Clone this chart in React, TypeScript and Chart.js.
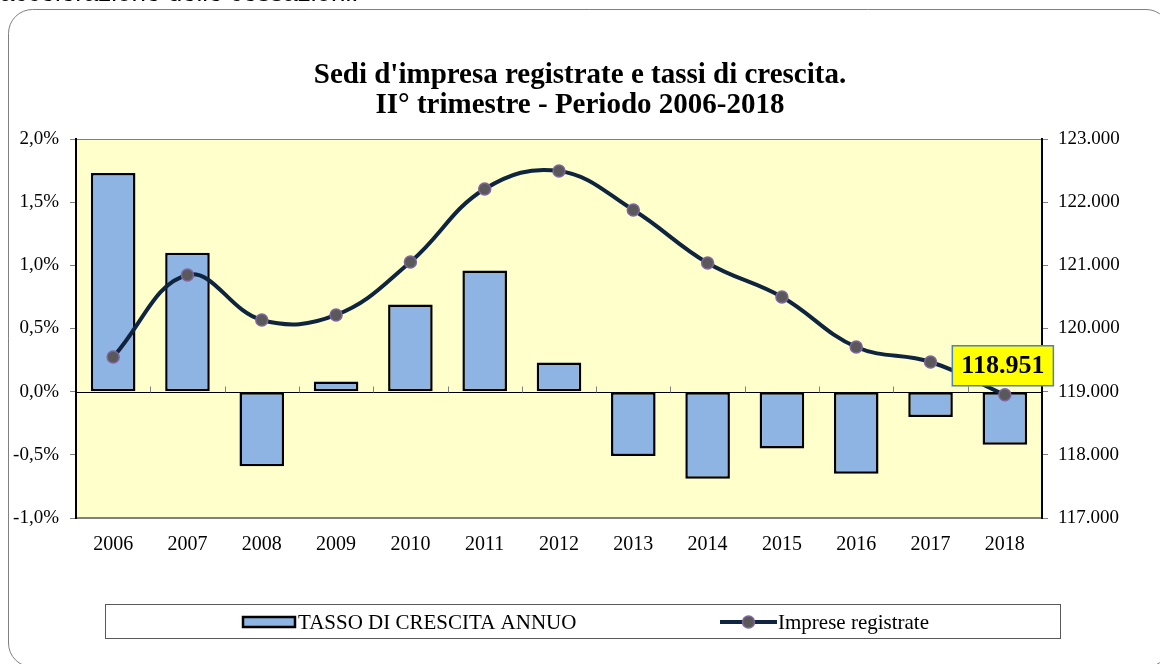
import React, { useEffect, useRef } from "react";
import { Chart, registerables } from "chart.js";

Chart.register(...registerables);

// ---- Data ----
const years = ["2006", "2007", "2008", "2009", "2010", "2011", "2012", "2013", "2014", "2015", "2016", "2017", "2018"];
const growthRate = [1.73, 1.10, -0.59, 0.08, 0.69, 0.96, 0.23, -0.51, -0.69, -0.45, -0.65, -0.20, -0.42];
const registeredFirms = [119549, 120847, 120135, 120214, 121053, 122208, 122493, 121876, 121037, 120499, 119707, 119470, 118951];
const titleLines = ["Sedi d'impresa registrate e tassi di crescita.", "II° trimestre - Periodo 2006-2018"];
const legendLabels = ["TASSO DI CRESCITA ANNUO", "Imprese registrate"];
const introText = "accelerazione delle cessazioni.";
const leftAxisTicks = { min: -1, max: 2, step: 0.5 };
const rightAxisTicks = { min: 117000, max: 123000, step: 1000 };

const SERIF = "'Liberation Serif', 'Times New Roman', serif";
const BAR_FILL = "#8DB4E2";
const LINE_COLOR = "#0F243E";
const POINT_FILL = "#595959";
const POINT_BORDER = "#8064A2";

const fmtThousands = (v: number) => String(Math.round(v)).replace(/\B(?=(\d{3})+(?!\d))/g, ".");
const fmtPct = (v: number) => v.toFixed(1).replace(".", ",") + "%";

const decorPlugin = {
  id: "decor",
  beforeDraw(chart: any) {
    const { ctx, chartArea: a, width, height } = chart;
    ctx.save();
    ctx.fillStyle = "#ffffff";
    ctx.fillRect(0, 0, width, height);
    // outer rounded frame
    ctx.strokeStyle = "#7f7f7f";
    ctx.lineWidth = 1;
    ctx.beginPath();
    const x0 = 8.5, y0 = 9.5, x1 = 1170, y1 = 667, r = 24;
    ctx.moveTo(x0 + r, y0);
    ctx.lineTo(x1 - r, y0);
    ctx.arcTo(x1, y0, x1, y0 + r, r);
    ctx.lineTo(x1, y1 - r);
    ctx.arcTo(x1, y1, x1 - r, y1, r);
    ctx.lineTo(x0 + r, y1);
    ctx.arcTo(x0, y1, x0, y1 - r, r);
    ctx.lineTo(x0, y0 + r);
    ctx.arcTo(x0, y0, x0 + r, y0, r);
    ctx.closePath();
    ctx.stroke();
    // plot area
    ctx.fillStyle = "#FFFFCC";
    ctx.fillRect(a.left, a.top, a.right - a.left, a.bottom - a.top);
    ctx.strokeStyle = "#808080";
    ctx.lineWidth = 1;
    ctx.beginPath();
    ctx.moveTo(a.left, a.top + 0.5);
    ctx.lineTo(a.right, a.top + 0.5);
    ctx.stroke();
    ctx.lineWidth = 2;
    ctx.beginPath();
    ctx.moveTo(a.left, a.bottom);
    ctx.lineTo(a.right, a.bottom);
    ctx.stroke();
    ctx.restore();
  },
  beforeDatasetsDraw(chart: any) {
    const { ctx, chartArea: a, scales } = chart;
    const y0 = Math.round(scales.y.getPixelForValue(0)) + 0.5;
    ctx.save();
    ctx.strokeStyle = "#000";
    ctx.lineWidth = 1;
    ctx.beginPath();
    ctx.moveTo(a.left, y0);
    ctx.lineTo(a.right, y0);
    ctx.stroke();
    // category tick marks on the zero line
    const n = years.length;
    const step = (a.right - a.left) / n;
    ctx.strokeStyle = "#808080";
    ctx.beginPath();
    for (let i = 1; i < n; i++) {
      const x = Math.round(a.left + step * i) + 0.5;
      ctx.moveTo(x, y0);
      ctx.lineTo(x, y0 - 6);
    }
    ctx.stroke();
    ctx.restore();
  },
  afterDatasetsDraw(chart: any) {
    const { ctx } = chart;
    const meta = chart.getDatasetMeta(1);
    const last = registeredFirms.length - 1;
    const pt = meta.data[last];
    if (!pt) return;
    const text = fmtThousands(registeredFirms[last]);
    ctx.save();
    ctx.font = `bold 26px ${SERIF}`;
    const tw = ctx.measureText(text).width;
    const w = tw + 18, h = 40;
    const cx = pt.x - 2, cy = pt.y - 29;
    ctx.fillStyle = "#FFFF00";
    ctx.fillRect(cx - w / 2, cy - h / 2, w, h);
    ctx.strokeStyle = "#4F81BD";
    ctx.lineWidth = 1.5;
    ctx.strokeRect(cx - w / 2, cy - h / 2, w, h);
    ctx.fillStyle = "#000";
    ctx.textAlign = "center";
    ctx.textBaseline = "middle";
    ctx.fillText(text, cx, cy + 1);
    ctx.restore();
  },
  afterDraw(chart: any) {
    const { ctx } = chart;
    ctx.save();
    // legend frame
    ctx.strokeStyle = "#595959";
    ctx.lineWidth = 1;
    ctx.strokeRect(105.5, 604.5, 955, 34);
    const cy = 622;
    // bar legend icon
    ctx.fillStyle = BAR_FILL;
    ctx.fillRect(243, cy - 5, 52, 10);
    ctx.strokeStyle = "#000";
    ctx.lineWidth = 2.5;
    ctx.strokeRect(243, cy - 5, 52, 10);
    ctx.fillStyle = "#000";
    ctx.font = `21px ${SERIF}`;
    ctx.textBaseline = "middle";
    ctx.textAlign = "left";
    ctx.fillText(legendLabels[0], 298, cy + 1);
    // line legend icon
    ctx.strokeStyle = LINE_COLOR;
    ctx.lineWidth = 4;
    ctx.beginPath();
    ctx.moveTo(720, cy);
    ctx.lineTo(777, cy);
    ctx.stroke();
    ctx.beginPath();
    ctx.arc(748.5, cy, 6, 0, Math.PI * 2);
    ctx.fillStyle = POINT_FILL;
    ctx.fill();
    ctx.strokeStyle = POINT_BORDER;
    ctx.lineWidth = 1.5;
    ctx.stroke();
    ctx.fillStyle = "#000";
    ctx.fillText(legendLabels[1], 778, cy + 1);
    ctx.restore();
  },
};

export default function App() {
  const canvasRef = useRef<HTMLCanvasElement | null>(null);

  useEffect(() => {
    if (!canvasRef.current) return;
    const chart = new Chart(canvasRef.current, {
      type: "bar",
      data: {
        labels: years,
        datasets: [
          {
            type: "bar",
            label: legendLabels[0],
            data: growthRate,
            yAxisID: "y",
            backgroundColor: BAR_FILL,
            borderColor: "#000",
            borderWidth: 2.5,
            borderSkipped: false,
            barPercentage: 0.6,
            categoryPercentage: 1.0,
            order: 2,
          },
          {
            type: "line",
            label: legendLabels[1],
            data: registeredFirms,
            yAxisID: "y1",
            borderColor: LINE_COLOR,
            borderWidth: 4,
            tension: 0.4,
            pointRadius: 6,
            pointBackgroundColor: POINT_FILL,
            pointBorderColor: POINT_BORDER,
            pointBorderWidth: 1.5,
            fill: false,
            order: 1,
          } as any,
        ],
      },
      options: {
        responsive: false,
        animation: false,
        devicePixelRatio: 1,
        layout: { padding: { top: 10, left: 0, right: 0, bottom: 0 } },
        plugins: {
          legend: { display: false },
          tooltip: { enabled: false },
          title: {
            display: true,
            text: titleLines,
            color: "#000",
            font: { family: SERIF, size: 29, weight: "bold", lineHeight: 30 / 29 },
            padding: { top: 51, bottom: 18 },
          },
        },
        scales: {
          x: {
            grid: { display: false },
            border: { display: false },
            ticks: { color: "#000", font: { family: SERIF, size: 20 }, padding: 7, maxRotation: 0 },
            afterFit(s: any) { s.height = 146; },
          },
          y: {
            position: "left",
            min: leftAxisTicks.min,
            max: leftAxisTicks.max,
            ticks: {
              stepSize: leftAxisTicks.step,
              color: "#000",
              font: { family: SERIF, size: 19 },
              padding: 11,
              callback: (v: any) => fmtPct(Number(v)),
            },
            grid: { drawOnChartArea: false, tickLength: 6, color: "#808080" },
            border: { color: "#000", width: 2 },
            afterFit(s: any) { s.width = 76; },
          },
          y1: {
            position: "right",
            min: rightAxisTicks.min,
            max: rightAxisTicks.max,
            ticks: {
              stepSize: rightAxisTicks.step,
              color: "#000",
              font: { family: SERIF, size: 19 },
              padding: 10,
              callback: (v: any) => fmtThousands(Number(v)),
            },
            grid: { drawOnChartArea: false, tickLength: 6, color: "#808080" },
            border: { color: "#000", width: 2 },
            afterFit(s: any) { s.width = 118; },
          },
        },
      } as any,
      plugins: [decorPlugin],
    });
    return () => chart.destroy();
  }, []);

  return (
    <div style={{ position: "fixed", left: 0, top: 0, width: 1160, height: 664, overflow: "hidden", background: "#fff" }}>
      <canvas ref={canvasRef} width={1160} height={664} style={{ display: "block", width: 1160, height: 664 }} />
      <div
        style={{
          position: "absolute",
          left: 0,
          top: -21,
          fontFamily: "'Liberation Sans', Arial, sans-serif",
          fontSize: 26,
          lineHeight: "26px",
          whiteSpace: "nowrap",
          color: "#000",
        }}
      >
        {introText}
      </div>
    </div>
  );
}
